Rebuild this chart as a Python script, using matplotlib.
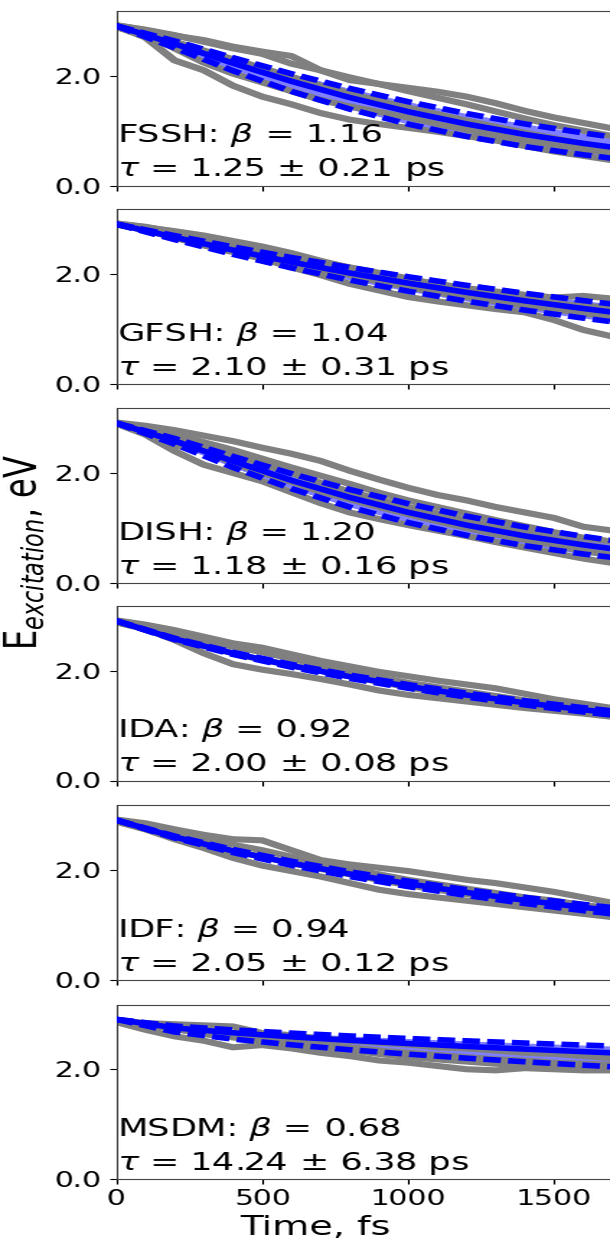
import io
import matplotlib
matplotlib.use('Agg')
import matplotlib.pyplot as plt
from matplotlib.ticker import FormatStrFormatter
from PIL import Image

# the reference glyphs are about 1.44x wider than tall, so draw narrow and stretch
STRETCH = 1.44

# time grids, fs
t_traj = [0, 100, 200, 300, 400, 500, 600, 700, 800, 900,
          1000, 1100, 1200, 1300, 1400, 1500, 1600, 1700]
t_fit = [0, 200, 400, 600, 800, 1000, 1200, 1400, 1600, 1700]

methods = ['FSSH', 'GFSH', 'DISH', 'IDA', 'IDF', 'MSDM']
betas = ['1.16', '1.04', '1.20', '0.92', '0.94', '0.68']
taus = ['1.25', '2.10', '1.18', '2.00', '2.05', '14.24']
tau_errs = ['0.21', '0.31', '0.16', '0.08', '0.12', '6.38']

# fitted curve and its bounds (eV)
fssh_fit = [2.91, 2.583, 2.229, 1.899, 1.603, 1.345, 1.121, 0.930, 0.768, 0.697]
fssh_hi = [2.91, 2.634, 2.329, 2.037, 1.769, 1.527, 1.312, 1.122, 0.957, 0.883]
fssh_lo = [2.91, 2.510, 2.092, 1.716, 1.392, 1.119, 0.894, 0.709, 0.560, 0.496]

gfsh_fit = [2.91, 2.668, 2.435, 2.217, 2.017, 1.833, 1.664, 1.510, 1.370, 1.304]
gfsh_hi = [2.91, 2.699, 2.493, 2.300, 2.118, 1.949, 1.793, 1.648, 1.514, 1.451]
gfsh_lo = [2.91, 2.627, 2.358, 2.111, 1.888, 1.686, 1.504, 1.341, 1.195, 1.128]

dish_fit = [2.91, 2.584, 2.215, 1.866, 1.554, 1.282, 1.049, 0.852, 0.689, 0.618]
dish_hi = [2.91, 2.628, 2.302, 1.987, 1.698, 1.440, 1.212, 1.014, 0.845, 0.769]
dish_lo = [2.91, 2.526, 2.102, 1.715, 1.378, 1.096, 0.863, 0.674, 0.523, 0.460]

ida_fit = [2.91, 2.580, 2.318, 2.091, 1.892, 1.715, 1.557, 1.416, 1.289, 1.230]
ida_hi = [2.91, 2.592, 2.337, 2.116, 1.921, 1.748, 1.592, 1.453, 1.327, 1.268]
ida_lo = [2.91, 2.569, 2.298, 2.065, 1.861, 1.681, 1.521, 1.377, 1.249, 1.190]

idf_fit = [2.91, 2.601, 2.347, 2.124, 1.926, 1.749, 1.590, 1.447, 1.318, 1.258]
idf_hi = [2.91, 2.617, 2.373, 2.159, 1.967, 1.796, 1.641, 1.500, 1.373, 1.314]
idf_lo = [2.91, 2.584, 2.318, 2.085, 1.880, 1.697, 1.535, 1.389, 1.258, 1.198]

msdm_fit = [2.91, 2.754, 2.665, 2.591, 2.527, 2.469, 2.416, 2.367, 2.321, 2.299]
msdm_hi = [2.91, 2.788, 2.717, 2.659, 2.607, 2.561, 2.518, 2.478, 2.441, 2.423]
msdm_lo = [2.91, 2.680, 2.550, 2.446, 2.355, 2.275, 2.202, 2.136, 2.074, 2.045]

# individual trajectories (eV)
fssh_traj = [
    [2.92, 2.83, 2.73, 2.65, 2.53, 2.44, 2.36, 2.10, 1.92, 1.85, 1.78, 1.71, 1.62, 1.50, 1.36, 1.24, 1.14, 1.04],
    [2.92, 2.84, 2.74, 2.62, 2.50, 2.40, 2.22, 2.10, 1.97, 1.85, 1.72, 1.60, 1.48, 1.35, 1.22, 1.10, 1.00, 0.90],
    [2.90, 2.70, 2.28, 2.10, 1.82, 1.62, 1.48, 1.32, 1.20, 1.12, 1.05, 0.98, 0.90, 0.82, 0.72, 0.62, 0.54, 0.46],
    [2.88, 2.76, 2.50, 2.24, 2.04, 1.88, 1.72, 1.56, 1.44, 1.34, 1.24, 1.12, 1.02, 0.92, 0.82, 0.74, 0.66, 0.58],
    [2.92, 2.80, 2.62, 2.46, 2.30, 2.14, 1.98, 1.82, 1.68, 1.54, 1.42, 1.30, 1.18, 1.07, 0.96, 0.86, 0.76, 0.68],
]
gfsh_traj = [
    [2.92, 2.85, 2.78, 2.70, 2.60, 2.50, 2.38, 2.24, 2.11, 2.00, 1.90, 1.82, 1.74, 1.68, 1.62, 1.57, 1.60, 1.55],
    [2.90, 2.80, 2.66, 2.52, 2.40, 2.28, 2.12, 1.98, 1.82, 1.70, 1.58, 1.50, 1.43, 1.36, 1.30, 1.16, 0.98, 0.86],
    [2.90, 2.82, 2.72, 2.58, 2.48, 2.36, 2.25, 2.12, 2.02, 1.90, 1.80, 1.70, 1.62, 1.52, 1.44, 1.36, 1.28, 1.22],
    [2.92, 2.86, 2.76, 2.66, 2.56, 2.44, 2.34, 2.22, 2.12, 2.02, 1.92, 1.80, 1.72, 1.62, 1.54, 1.46, 1.42, 1.38],
    [2.91, 2.80, 2.70, 2.56, 2.44, 2.33, 2.20, 2.08, 1.98, 1.86, 1.76, 1.66, 1.58, 1.50, 1.42, 1.36, 1.30, 1.26],
]
dish_traj = [
    [2.92, 2.86, 2.78, 2.68, 2.58, 2.46, 2.35, 2.22, 2.04, 1.88, 1.73, 1.60, 1.50, 1.38, 1.28, 1.18, 1.02, 0.95],
    [2.90, 2.70, 2.40, 2.15, 2.00, 1.85, 1.65, 1.45, 1.28, 1.16, 1.05, 0.95, 0.85, 0.74, 0.64, 0.54, 0.44, 0.36],
    [2.91, 2.78, 2.50, 2.42, 2.18, 2.00, 1.84, 1.66, 1.52, 1.38, 1.25, 1.12, 1.00, 0.88, 0.78, 0.68, 0.58, 0.50],
    [2.92, 2.82, 2.70, 2.56, 2.42, 2.26, 2.10, 1.95, 1.80, 1.64, 1.50, 1.38, 1.26, 1.14, 1.03, 0.92, 0.82, 0.75],
    [2.91, 2.80, 2.66, 2.50, 2.34, 2.16, 2.00, 1.82, 1.66, 1.52, 1.38, 1.26, 1.14, 1.02, 0.92, 0.80, 0.70, 0.62],
]
ida_traj = [
    [2.92, 2.84, 2.74, 2.62, 2.50, 2.42, 2.30, 2.18, 2.08, 1.98, 1.90, 1.82, 1.75, 1.68, 1.58, 1.48, 1.40, 1.32],
    [2.88, 2.76, 2.56, 2.32, 2.12, 2.02, 1.94, 1.85, 1.75, 1.64, 1.56, 1.50, 1.44, 1.38, 1.32, 1.27, 1.22, 1.16],
    [2.90, 2.78, 2.64, 2.46, 2.32, 2.20, 2.10, 2.00, 1.90, 1.80, 1.70, 1.60, 1.52, 1.46, 1.40, 1.34, 1.26, 1.20],
    [2.91, 2.82, 2.70, 2.56, 2.44, 2.34, 2.22, 2.10, 1.98, 1.88, 1.78, 1.70, 1.62, 1.54, 1.46, 1.40, 1.34, 1.26],
]
idf_traj = [
    [2.92, 2.85, 2.74, 2.64, 2.56, 2.54, 2.36, 2.18, 2.10, 2.04, 1.98, 1.90, 1.82, 1.76, 1.68, 1.60, 1.50, 1.40],
    [2.88, 2.74, 2.56, 2.40, 2.22, 2.08, 1.98, 1.88, 1.76, 1.64, 1.56, 1.50, 1.44, 1.38, 1.32, 1.26, 1.20, 1.14],
    [2.90, 2.80, 2.64, 2.48, 2.34, 2.24, 2.12, 2.02, 1.92, 1.82, 1.72, 1.64, 1.56, 1.48, 1.42, 1.36, 1.30, 1.24],
    [2.91, 2.82, 2.70, 2.58, 2.46, 2.36, 2.24, 2.12, 2.02, 1.92, 1.82, 1.74, 1.66, 1.58, 1.50, 1.44, 1.36, 1.30],
]
msdm_traj = [
    [2.90, 2.84, 2.82, 2.80, 2.78, 2.66, 2.62, 2.56, 2.52, 2.48, 2.45, 2.40, 2.38, 2.34, 2.30, 2.28, 2.24, 2.20],
    [2.86, 2.72, 2.60, 2.52, 2.40, 2.44, 2.38, 2.30, 2.24, 2.16, 2.12, 2.06, 2.00, 1.98, 2.02, 2.00, 1.98, 1.98],
    [2.88, 2.80, 2.74, 2.64, 2.58, 2.52, 2.46, 2.40, 2.34, 2.28, 2.22, 2.18, 2.14, 2.10, 2.08, 2.06, 2.04, 2.02],
    [2.90, 2.82, 2.76, 2.70, 2.66, 2.58, 2.52, 2.46, 2.40, 2.34, 2.30, 2.26, 2.22, 2.18, 2.16, 2.12, 2.10, 2.08],
]

fits = [fssh_fit, gfsh_fit, dish_fit, ida_fit, idf_fit, msdm_fit]
fits_hi = [fssh_hi, gfsh_hi, dish_hi, ida_hi, idf_hi, msdm_hi]
fits_lo = [fssh_lo, gfsh_lo, dish_lo, ida_lo, idf_lo, msdm_lo]
trajs = [fssh_traj, gfsh_traj, dish_traj, ida_traj, idf_traj, msdm_traj]

W, H = 610, 1244
# bottom edge of each panel in pixels from the top, panel height in pixels
panel_bottoms = [185.5, 383.7, 582.7, 780.5, 979.7, 1179.0]
panel_h = 174.5
ax_left = 116.0 / W
ax_width = 495.6 / W


def draw_panel(ax, i):
    ax.fill_between(t_fit, fits_lo[i], fits_hi[i], color='blue', alpha=0.5,
                    lw=0, zorder=1)
    for tr in trajs[i]:
        ax.plot(t_traj, tr, color='gray', lw=4.4, zorder=2,
                solid_joinstyle='round')
    ax.plot(t_fit, fits[i], color='blue', lw=4.0, zorder=3)
    ax.plot(t_fit, fits_hi[i], color='blue', lw=4.0, ls=(0, (2.2, 0.9)), zorder=3)
    ax.plot(t_fit, fits_lo[i], color='blue', lw=4.0, ls=(0, (2.2, 0.9)), zorder=3)
    label = methods[i] + ': $\\beta$ = ' + betas[i] + '\n' + \
        '$\\tau$ = ' + taus[i] + ' $\\pm$ ' + tau_errs[i] + ' ps'
    ax.text(0.0, 0.012, label, transform=ax.transAxes, ha='left', va='bottom',
            fontsize=17.5, linespacing=1.35, zorder=4)
    ax.set_xlim(0, 1700)
    ax.set_ylim(0, 3.18)
    ax.set_yticks([0.0, 2.0])
    ax.yaxis.set_major_formatter(FormatStrFormatter('%.1f'))
    ax.set_xticks([0, 500, 1000, 1500])
    ax.tick_params(labelsize=15)
    for s in ax.spines.values():
        s.set_color('#444444')
    if i < len(methods) - 1:
        ax.tick_params(labelbottom=False)


def main():
    fig = plt.figure(figsize=(W / STRETCH / 100.0, H / 100.0), dpi=100)
    for i in range(len(methods)):
        b = panel_bottoms[i]
        ax = fig.add_axes([ax_left, 1 - b / H, ax_width, panel_h / H])
        draw_panel(ax, i)

    fig.text(0.042, 0.556, 'E$_{excitation}$, eV', rotation=90, fontsize=23,
             ha='center', va='center')
    fig.text(0.515, 1 - 1228.0 / H, 'Time, fs', fontsize=19,
             ha='center', va='center')

    buf = io.BytesIO()
    fig.savefig(buf, format='png', dpi=100)
    buf.seek(0)
    img = Image.open(buf).convert('RGB')
    img = img.resize((W, H), Image.LANCZOS)
    img.save('out.png')


if __name__ == "__main__":
    main()
